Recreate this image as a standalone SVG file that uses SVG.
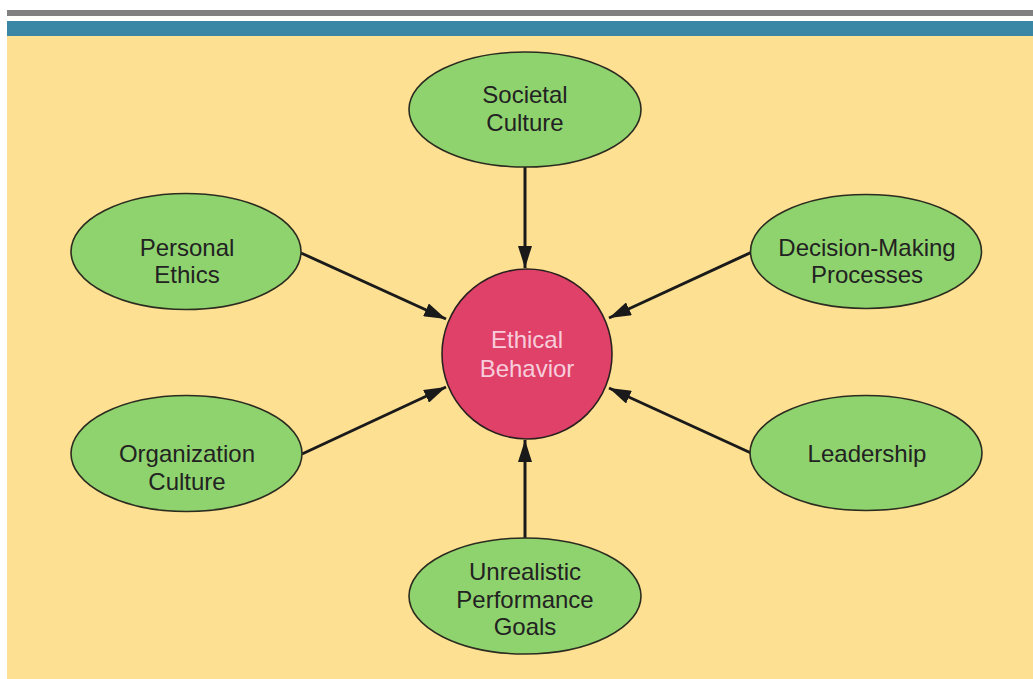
<svg xmlns="http://www.w3.org/2000/svg" width="1033" height="679" viewBox="0 0 1033 679">
<defs>
<style>
.bg{fill:#fde092}
.node{fill:#8fd36e;stroke:#2b2b20;stroke-width:1.6}
.center{fill:#e04168;stroke:#2b2020;stroke-width:1.6}
.lbl{font-family:"Liberation Sans",Arial,Helvetica,sans-serif;font-size:24px;fill:#222222;text-anchor:middle}
.clbl{font-family:"Liberation Sans",Arial,Helvetica,sans-serif;font-size:24px;fill:#f7cddc;text-anchor:middle}
.conn{stroke:#1a1a1a;stroke-width:3;fill:none;marker-end:url(#arr)}
</style>
<marker id="arr" markerUnits="userSpaceOnUse" markerWidth="22" markerHeight="14" refX="22" refY="7" orient="auto">
<path d="M0,0 L22,7 L0,14 Z" fill="#1a1a1a"/>
</marker>
</defs>
<rect x="0" y="0" width="1033" height="679" fill="#ffffff"/>
<rect x="7" y="10" width="1026" height="6" fill="#808080"/>
<rect x="7" y="21" width="1026" height="15" fill="#3a87a5"/>
<rect class="bg" x="7" y="36" width="1026" height="643"/>

<g id="connectors">
<line class="conn" x1="525" y1="167" x2="525" y2="268"/>
<line class="conn" x1="525" y1="538" x2="525" y2="440"/>
<line class="conn" x1="301" y1="253" x2="446" y2="319"/>
<line class="conn" x1="302" y1="454" x2="446" y2="387"/>
<line class="conn" x1="752" y1="252" x2="609" y2="318"/>
<line class="conn" x1="751" y1="453" x2="609" y2="388"/>
</g>

<g id="ethical-behavior">
<circle class="center" cx="527" cy="354" r="85"/>
<text class="clbl" x="527" y="348">Ethical</text>
<text class="clbl" x="527" y="377">Behavior</text>
</g>

<g id="societal-culture">
<ellipse class="node" cx="525" cy="109.5" rx="116" ry="57.5"/>
<text class="lbl" x="525" y="103">Societal</text>
<text class="lbl" x="525" y="131">Culture</text>
</g>

<g id="personal-ethics">
<ellipse class="node" cx="186" cy="251.5" rx="115" ry="58"/>
<text class="lbl" x="187" y="256">Personal</text>
<text class="lbl" x="187" y="283">Ethics</text>
</g>

<g id="decision-making">
<ellipse class="node" cx="866" cy="251.5" rx="115.5" ry="57"/>
<text class="lbl" x="867" y="256">Decision-Making</text>
<text class="lbl" x="867" y="283">Processes</text>
</g>

<g id="organization-culture">
<ellipse class="node" cx="186.5" cy="453.5" rx="115.5" ry="58"/>
<text class="lbl" x="187" y="462">Organization</text>
<text class="lbl" x="187" y="490">Culture</text>
</g>

<g id="leadership">
<ellipse class="node" cx="866" cy="453" rx="116" ry="57.5"/>
<text class="lbl" x="867" y="462">Leadership</text>
</g>

<g id="unrealistic-goals">
<ellipse class="node" cx="525" cy="596" rx="116" ry="58"/>
<text class="lbl" x="525" y="580">Unrealistic</text>
<text class="lbl" x="525" y="608">Performance</text>
<text class="lbl" x="525" y="635">Goals</text>
</g>
</svg>
